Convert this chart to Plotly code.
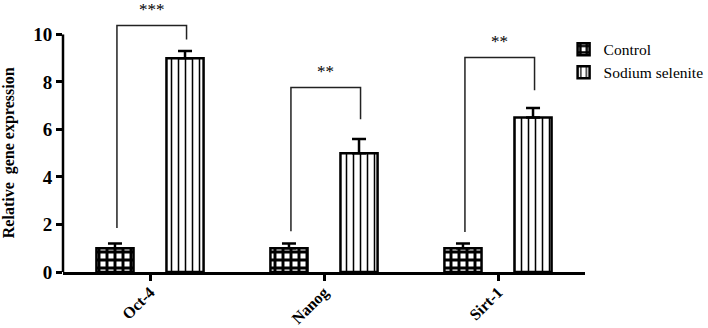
import plotly.graph_objects as go

categories = ["Oct-4", "Nanog", "Sirt-1"]
control_vals = [1.0, 1.0, 1.0]
control_err = [0.2, 0.2, 0.2]
selenite_vals = [9.0, 5.0, 6.5]
selenite_err = [0.3, 0.6, 0.4]
bracket_left_start = [1.85, 1.72, 1.68]
bracket_top = [10.38, 7.77, 9.03]
bracket_right_end = [9.79, 6.43, 7.65]
stars = ["***", "**", "**"]
y_ticks = [0, 2, 4, 6, 8, 10]

FONT = "Liberation Serif, Times New Roman, Times, serif"
xpos = list(range(len(categories)))

fig = go.Figure()
fig.add_trace(go.Bar(
    name="Control", x=xpos, y=control_vals,
    marker=dict(color="white", line=dict(color="black", width=2.5),
                pattern=dict(shape="+", fgcolor="black", bgcolor="white", fgopacity=1,
                             size=8, solidity=0.6)),
    error_y=dict(type="data", symmetric=False, array=control_err, arrayminus=[0]*3,
                 color="black", thickness=2.5, width=7),
))
fig.add_trace(go.Bar(
    name="Sodium selenite", x=xpos, y=selenite_vals,
    marker=dict(color="white", line=dict(color="black", width=2.5),
                pattern=dict(shape="|", fgcolor="black", bgcolor="white", fgopacity=1,
                             size=7, solidity=0.22)),
    error_y=dict(type="data", symmetric=False, array=selenite_err, arrayminus=[0]*3,
                 color="black", thickness=2.5, width=7),
))

left_off, right_off = -0.19, 0.21
for i in xpos:
    fig.add_trace(go.Scatter(
        x=[i + left_off, i + left_off, i + right_off, i + right_off],
        y=[bracket_left_start[i], bracket_top[i], bracket_top[i], bracket_right_end[i]],
        mode="lines", line=dict(color="#222", width=1.5),
        showlegend=False, hoverinfo="skip",
    ))
    fig.add_annotation(x=i + (left_off + right_off) / 2, y=bracket_top[i], text=stars[i],
                       showarrow=False, yanchor="bottom", yshift=4,
                       font=dict(family=FONT, size=17, color="black"))

fig.add_shape(type="line", xref="x domain", x0=0, x1=0, yref="y", y0=0, y1=10,
              line=dict(color="black", width=2.5))

fig.add_annotation(xref="paper", x=-(63 - 9) / 522, y=5, yref="y", text="Relative  gene expression",
                   textangle=-90, showarrow=False, xanchor="center", yanchor="middle",
                   font=dict(family=FONT, size=16, weight="bold", color="black"))

fig.update_layout(
    width=708, height=328,
    margin=dict(l=63, r=123, t=0, b=56, autoexpand=False),
    paper_bgcolor="white", plot_bgcolor="white",
    barmode="group", bargap=0.195, bargroupgap=0.47,
    font=dict(family=FONT, color="black"),
    legend=dict(x=0.959, y=0.88, xanchor="left", yanchor="top",
                font=dict(family=FONT, size=15.5), tracegroupgap=0,
                bgcolor="rgba(0,0,0,0)"),
    xaxis=dict(
        range=[-0.5, 2.5], tickvals=xpos, ticktext=categories, automargin=False,
        showline=True, linecolor="black", linewidth=2.5,
        ticks="outside", ticklen=6, tickwidth=2.5, tickcolor="black",
        tickangle=-45, tickfont=dict(family=FONT, size=16, weight="bold"),
        ticklabelstandoff=-4,
        showgrid=False, zeroline=False,
    ),
    yaxis=dict(
        range=[0, 11.45], tickvals=y_ticks, ticktext=[str(v) for v in y_ticks], automargin=False,
        showline=False, ticks="outside", ticklen=6, tickwidth=2.5, tickcolor="black",
        tickfont=dict(family=FONT, size=19, weight="bold"),
        showgrid=False, zeroline=False,
    ),
)

fig.write_html("out.html", config={"displayModeBar": False},
               post_script="document.body.style.margin='0';document.body.style.overflow='hidden';")
